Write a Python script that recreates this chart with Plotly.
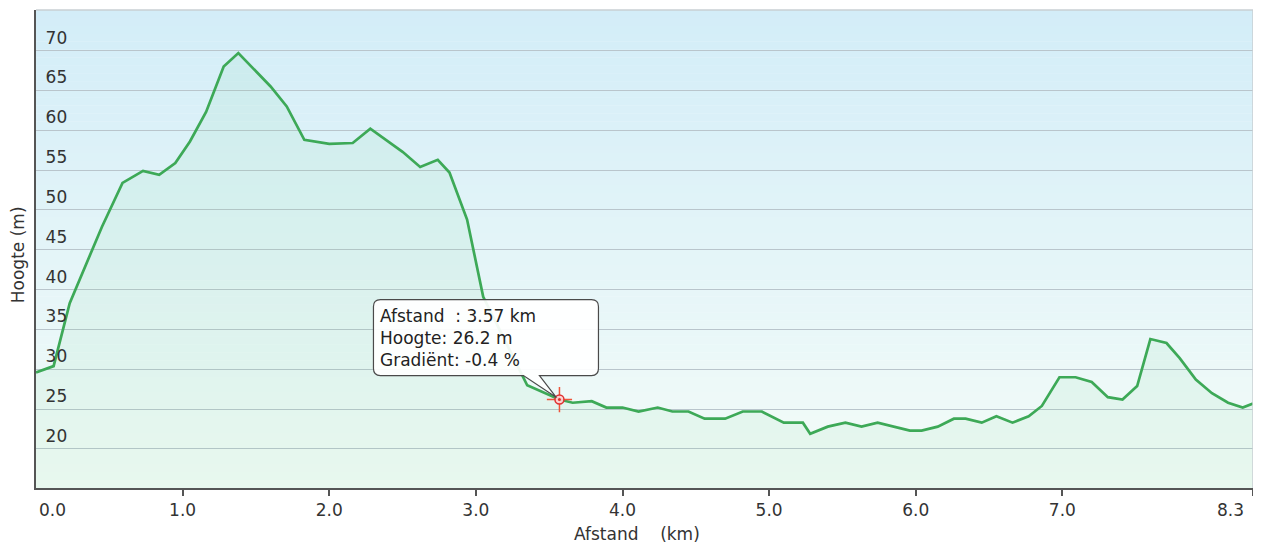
import plotly.graph_objects as go

# ---------------- data ----------------
distance_km = [0.00, 0.12, 0.23, 0.45, 0.59, 0.73, 0.84, 0.95, 1.05, 1.16, 1.28, 1.38,
               1.60, 1.71, 1.83, 2.00, 2.16, 2.28, 2.50, 2.62, 2.74, 2.82, 2.94, 3.05,
               3.35, 3.44, 3.57, 3.66, 3.79, 3.89, 4.00, 4.11, 4.24, 4.34, 4.45, 4.56,
               4.70, 4.82, 4.95, 5.10, 5.23, 5.28, 5.40, 5.52, 5.63, 5.74, 5.85, 5.96,
               6.04, 6.15, 6.26, 6.34, 6.45, 6.55, 6.66, 6.77, 6.86, 6.98, 7.09, 7.20,
               7.31, 7.41, 7.51, 7.60, 7.71, 7.80, 7.91, 8.02, 8.13, 8.23, 8.30]
elevation_m = [29.6, 30.4, 38.3, 47.9, 53.4, 54.9, 54.4, 55.9, 58.6, 62.3, 68.0, 69.7,
               65.5, 63.0, 58.8, 58.3, 58.4, 60.2, 57.3, 55.4, 56.3, 54.7, 48.8, 39.1,
               28.0, 27.3, 26.2, 25.8, 26.0, 25.2, 25.2, 24.7, 25.2, 24.7, 24.7, 23.8,
               23.8, 24.7, 24.7, 23.3, 23.3, 21.9, 22.8, 23.3, 22.8, 23.3, 22.8, 22.3,
               22.3, 22.8, 23.8, 23.8, 23.3, 24.1, 23.3, 24.1, 25.4, 29.0, 29.0, 28.4,
               26.5, 26.2, 27.9, 33.8, 33.3, 31.4, 28.7, 27.0, 25.8, 25.2, 25.7]

y_tick_vals = [20, 25, 30, 35, 40, 45, 50, 55, 60, 65, 70]
x_tick_vals = [1, 2, 3, 4, 5, 6, 7]
x_tick_text = ["1.0", "2.0", "3.0", "4.0", "5.0", "6.0", "7.0"]
x_end_vals = [0.0, 8.3]
x_end_text = ["0.0", "8.3"]

hover_km = 3.57
hover_m = 26.2
hover_grad = -0.4

# ---------------- layout geometry ----------------
# (page body has an 8px margin; the figure is sized to fit inside the window)
W, H = 1253, 537
M = dict(l=28, r=8, t=2, b=57)
X_RANGE = [0, 8.3]
Y_RANGE = [15.1, 75.1]
plot_w = W - M["l"] - M["r"]
plot_h = H - M["t"] - M["b"]


def dx(px):
    return px * (X_RANGE[1] - X_RANGE[0]) / plot_w


def dy(px):  # positive = upward
    return px * (Y_RANGE[1] - Y_RANGE[0]) / plot_h


FONT = "DejaVu Sans, Verdana, sans-serif"
TXT = "#333333"
FS = 17

fig = go.Figure()

fig.add_trace(go.Scatter(
    x=distance_km, y=elevation_m, mode="lines",
    line=dict(color="#3da957", width=2.7),
    fill="tozeroy", fillcolor="rgba(110,215,140,0.09)",
    hoverinfo="skip", showlegend=False,
))

# highlighted point marker
fig.add_trace(go.Scatter(
    x=[hover_km], y=[hover_m], mode="markers",
    marker=dict(symbol="cross-thin-open", size=18, line=dict(color="#e03030", width=1.5)),
    hoverinfo="skip", showlegend=False,
))
fig.add_trace(go.Scatter(
    x=[hover_km], y=[hover_m], mode="markers",
    marker=dict(symbol="circle", size=9, color="rgba(255,210,210,0.9)",
                line=dict(color="#e03030", width=1.5)),
    hoverinfo="skip", showlegend=False,
))
fig.add_trace(go.Scatter(
    x=[hover_km], y=[hover_m], mode="markers",
    marker=dict(symbol="circle", size=3, color="#e03030"),
    hoverinfo="skip", showlegend=False,
))

# ---------------- background gradient ----------------
shapes = []
top_c = (211, 237, 248)
bot_c = (244, 252, 248)
n = 60
for i in range(n):
    t = i / (n - 1)
    c = tuple(round(bot_c[k] + (top_c[k] - bot_c[k]) * t) for k in range(3))
    y0 = Y_RANGE[0] + (Y_RANGE[1] - Y_RANGE[0]) * i / n
    y1 = Y_RANGE[0] + (Y_RANGE[1] - Y_RANGE[0]) * (i + 1) / n
    shapes.append(dict(type="rect", xref="paper", yref="y", x0=0, x1=1, y0=y0, y1=y1 + 0.05,
                       fillcolor="rgb(%d,%d,%d)" % c, line=dict(width=0), layer="below"))

# top / right light borders
shapes.append(dict(type="line", xref="paper", yref="paper", x0=0, x1=1, y0=1, y1=1,
                   line=dict(color="#c9cfd3", width=1.5), layer="above"))
shapes.append(dict(type="line", xref="paper", yref="paper", x0=1, x1=1, y0=0, y1=1,
                   line=dict(color="#c9cfd3", width=1.5), layer="above"))

# ---------------- callout (tooltip) ----------------
L = hover_km + dx(-186)
R = hover_km + dx(39)
T = hover_m + dy(100)
B = hover_m + dy(24)
rx, ry = dx(7), dy(7)
b1 = hover_km + dx(-36)
b2 = hover_km + dx(-20)
tipx = hover_km + dx(-3)
tipy = hover_m + dy(2)
path = (f"M {L+rx},{T} L {R-rx},{T} Q {R},{T} {R},{T-ry} L {R},{B+ry} Q {R},{B} {R-rx},{B} "
        f"L {b2},{B} L {tipx},{tipy} L {b1},{B} L {L+rx},{B} Q {L},{B} {L},{B+ry} "
        f"L {L},{T-ry} Q {L},{T} {L+rx},{T} Z")
shapes.append(dict(type="path", xref="x", yref="y", path=path,
                   fillcolor="rgba(255,255,255,0.93)", line=dict(color="#4a4a4a", width=1.2),
                   layer="above"))

annotations = [dict(
    x=L + dx(5), y=(T + B) / 2, xref="x", yref="y", xanchor="left", yanchor="middle",
    align="left", showarrow=False,
    text=("Afstand\u00a0\u00a0: %.2f km<br>Hoogte: %.1f m<br>Gradiënt: %.1f %%"
          % (hover_km, hover_m, hover_grad)),
    font=dict(family=FONT, size=FS, color="#222222"),
)]

# end tick labels (kept inside the plot width)
annotations.append(dict(x=x_end_vals[0], y=0, xref="x", yref="paper", yshift=-22,
                        xanchor="left", yanchor="middle", showarrow=False, xshift=1,
                        text=x_end_text[0], font=dict(family=FONT, size=FS, color=TXT)))
annotations.append(dict(x=x_end_vals[1], y=0, xref="x", yref="paper", yshift=-22,
                        xanchor="right", yanchor="middle", showarrow=False, xshift=-7,
                        text=x_end_text[1], font=dict(family=FONT, size=FS, color=TXT)))

# axis titles
annotations.append(dict(x=0.494, y=0, xref="paper", yref="paper", yshift=-46,
                        xanchor="center", yanchor="middle", showarrow=False,
                        text="Afstand\u00a0\u00a0\u00a0\u00a0(km)",
                        font=dict(family=FONT, size=FS, color=TXT)))
annotations.append(dict(x=0, y=0.487, xref="paper", yref="paper", xshift=-18,
                        xanchor="center", yanchor="middle", showarrow=False, textangle=-90,
                        text="Hoogte (m)", font=dict(family=FONT, size=FS, color=TXT)))

fig.update_layout(
    width=W, height=H, margin=M,
    paper_bgcolor="white", plot_bgcolor="white",
    showlegend=False, shapes=shapes, annotations=annotations,
    font=dict(family=FONT, size=FS, color=TXT),
)

fig.update_xaxes(
    range=X_RANGE, showgrid=False, zeroline=False, automargin=False,
    tickmode="array", tickvals=x_tick_vals + x_end_vals, ticktext=x_tick_text + ["", ""],
    ticks="outside", ticklen=6, tickwidth=1.5, tickcolor="#555555",
    showline=True, linecolor="#555555", linewidth=2,
    tickfont=dict(family=FONT, size=FS, color=TXT),
)
fig.update_yaxes(
    range=Y_RANGE, tickmode="array", tickvals=y_tick_vals, automargin=False,
    showgrid=True, gridcolor="#b9c5cc", gridwidth=1.2, zeroline=False,
    ticks="", ticklabelposition="inside", ticklabelstandoff=10, ticklabelshift=-13,
    showline=True, linecolor="#555555", linewidth=2,
    tickfont=dict(family=FONT, size=FS, color=TXT),
)

fig.write_html("out.html")
